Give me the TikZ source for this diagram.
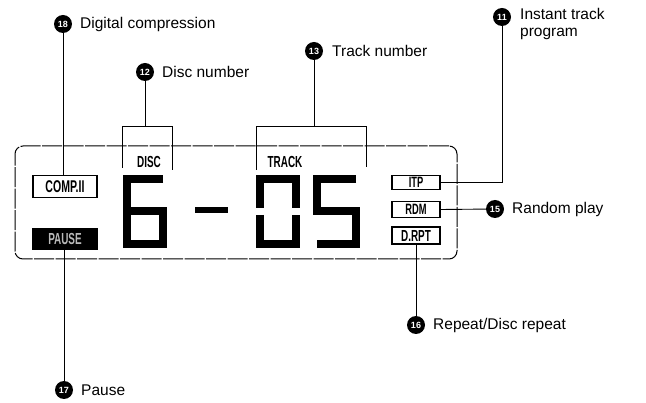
\documentclass[tikz,border=0pt]{standalone}
\usepackage{fontspec}
\usepackage{graphicx}
\setmainfont{Liberation Sans}
\newcommand\cond[1]{\scalebox{0.62}[1]{#1}}
\begin{document}
\begin{tikzpicture}[x=1pt,y=-1pt,
  badge/.style={circle, fill=black, inner sep=0pt, minimum size=18pt, text=white,
    font=\fontsize{9}{9}\selectfont\bfseries},
  lbl/.style={anchor=west, inner sep=0pt, font=\fontsize{15.5}{17}\selectfont},
  lcdbox/.style={draw, line width=1.6pt, inner sep=0pt, font=\fontsize{17}{17}\selectfont\bfseries},
  lcdtext/.style={inner sep=0pt, font=\fontsize{16}{16}\selectfont\bfseries},
  conn/.style={line width=0.9pt},
  seg/.style={line width=8pt, line join=miter},
  framebox/.style={draw, line width=1pt, rounded corners=8pt, dash pattern=on 20pt off 1.5pt}]
\useasboundingbox (0,0) rectangle (646,403);

% LCD frame
\node[framebox, minimum width=442pt, minimum height=113pt, inner sep=0pt] (lcd) at (236,202.5) {};

% LCD indicators
\node[lcdbox, minimum width=64pt, minimum height=22pt] (comp) at (65,186.5) {\cond{COMP.II}};
\node[fill=black, minimum width=66pt, minimum height=22pt, inner sep=0pt, text=gray!55,
  font=\fontsize{16}{16}\selectfont\bfseries] (pause) at (65,239) {\cond{PAUSE}};
\node[lcdbox, minimum width=48pt, minimum height=14pt, font=\fontsize{15}{15}\selectfont\bfseries] (itp) at (416,182.5) {\cond{ITP}};
\node[lcdbox, minimum width=48pt, minimum height=16pt, font=\fontsize{15}{15}\selectfont\bfseries] (rdm) at (416,209.5) {\cond{RDM}};
\node[lcdbox, minimum width=48pt, minimum height=17pt, font=\fontsize{16}{16}\selectfont\bfseries] (drpt) at (416,235.5) {\cond{D.RPT}};
\node[lcdtext] (disc) at (149,162) {\cond{DISC}};
\node[lcdtext] (track) at (285,162) {\cond{TRACK}};

% seven-segment digits
\draw[seg] (163,179) -- (127,179) -- (127,244) -- (163,244) -- (163,211.5) -- (127,211.5);
\draw[line width=6pt] (195,210.5) -- (228,210.5);
\draw[seg] (260,208) -- (260,179) -- (296,179) -- (296,208);
\draw[seg] (260,215) -- (260,244) -- (296,244) -- (296,215);
\draw[seg] (356,179) -- (317,179) -- (317,211.5) -- (356,211.5) -- (356,244) -- (317,244);

% badges and labels
\node[badge] (b11) at (63,24) {18};
\node[lbl] (t11) at (80,24) {Digital compression};
\node[badge] (b12) at (145,72) {12};
\node[lbl] (t12) at (162,72) {Disc number};
\node[badge] (b13) at (314,51) {13};
\node[lbl] (t13) at (332,51) {Track number};
\node[badge] (bitp) at (502,17) {11};
\node[lbl, align=left, anchor=north west] (titp) at (520,8) {Instant track\\program};
\node[badge] (brdm) at (495,209) {15};
\node[lbl] (trdm) at (512,209) {Random play};
\node[badge] (brep) at (416,325) {16};
\node[lbl] (trep) at (433,325) {Repeat/Disc repeat};
\node[badge] (bpause) at (64,390) {17};
\node[lbl] (tpause) at (81,390) {Pause};

% brackets
\coordinate (dL) at (122,168);
\coordinate (dtl) at (122,126);
\coordinate (dtr) at (172,126);
\coordinate (dR) at (172,170);
\draw[conn] (dL) -- (dtl) -- (dtr) -- (dR);
\draw[conn] (b12) -- (b12 |- dtl);
\coordinate (tL) at (256,170);
\coordinate (ttl) at (256,126);
\coordinate (ttr) at (366,126);
\coordinate (tR) at (366,167);
\draw[conn] (tL) -- (ttl) -- (ttr) -- (tR);
\draw[conn] (b13) -- (b13 |- ttl);

% connectors
\draw[conn] (b11) -- (b11 |- comp.north);
\draw[conn] (pause.south -| bpause) -- (bpause);
\draw[conn] (itp.east) -| (bitp);
\draw[conn] (rdm.east) -- (brdm);
\draw[conn] (drpt.south) -- (brep);
\end{tikzpicture}
\end{document}
